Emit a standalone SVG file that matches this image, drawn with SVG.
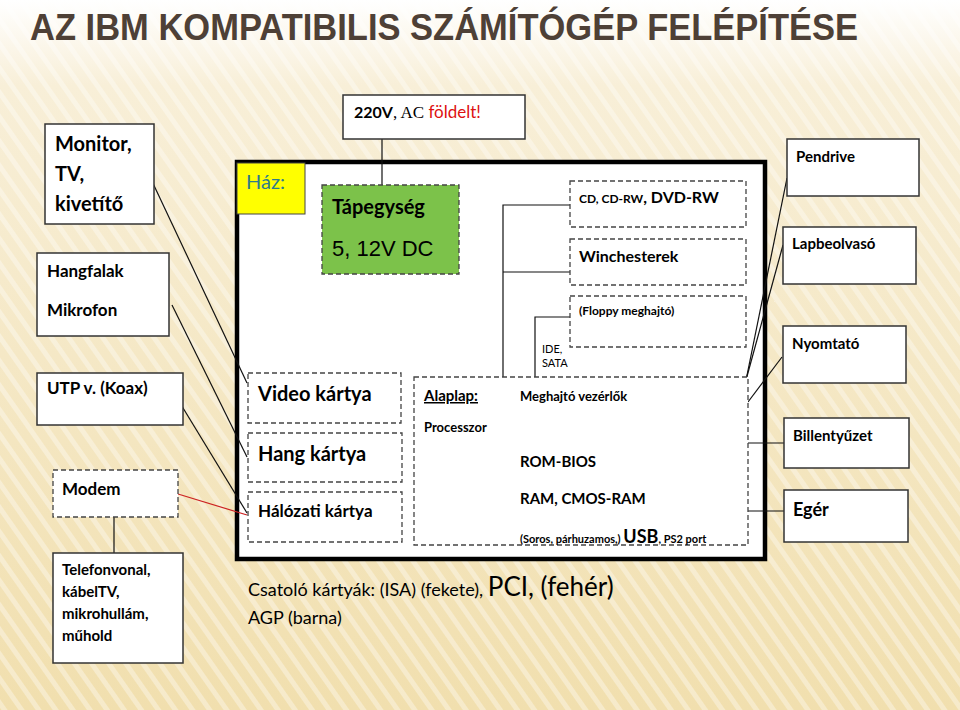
<svg xmlns="http://www.w3.org/2000/svg" width="960" height="710" viewBox="0 0 960 710">
<defs>
<linearGradient id="bg" x1="0" y1="0" x2="0" y2="1">
<stop offset="0" stop-color="#ffffff"/>
<stop offset="0.12" stop-color="#f8efd8"/>
<stop offset="1" stop-color="#f1dfae"/>
</linearGradient>
<pattern id="stripes" width="14" height="14" patternUnits="userSpaceOnUse" patternTransform="rotate(-35)">
<rect width="14" height="14" fill="none"/>
<rect width="5" height="14" fill="#ffffff" opacity="0.35"/>
</pattern>
</defs>
<style>
.t{font-family:Lato,"Open Sans","Liberation Sans",sans-serif;fill:#000;font-weight:bold}
.r{font-weight:normal}
.box{fill:#fff;stroke:#333;stroke-width:1.5}
.dash{fill:#fff;stroke:#444;stroke-width:1.3;stroke-dasharray:5 3}
.ln{stroke:#111;stroke-width:1.2;fill:none}
</style>
<rect width="960" height="710" fill="url(#bg)"/>
<rect width="960" height="710" fill="url(#stripes)"/>
<text x="30" y="40" font-family="'Liberation Sans',sans-serif" font-weight="bold" font-size="36" fill="#4e4036" textLength="828" lengthAdjust="spacingAndGlyphs">AZ IBM KOMPATIBILIS SZÁMÍTÓGÉP FELÉPÍTÉSE</text>

<g id="haz"><rect x="237" y="162" width="528" height="397" fill="#fff" stroke="#000" stroke-width="4.5"/>
<rect x="237" y="163" width="68" height="51" fill="#ffff00" stroke="#444" stroke-width="1"/>
<text x="246" y="189" font-family="Lato,sans-serif" font-size="20" fill="#2e7b8c">Ház:</text></g>

<g id="conn">
<line class="ln" x1="382" y1="139" x2="382" y2="185"/>
<line class="ln" x1="150" y1="177" x2="247" y2="383"/>
<line class="ln" x1="172" y1="305" x2="247" y2="457"/>
<line class="ln" x1="180" y1="403" x2="247" y2="513"/>
<line x1="178" y1="494" x2="247" y2="515" stroke="#cc2222" stroke-width="1.2"/>
<line class="ln" x1="114" y1="517" x2="114" y2="553"/>
<polyline class="ln" points="570,205 503,205 503,383"/>
<line class="ln" x1="503" y1="272" x2="570" y2="272"/>
<polyline class="ln" points="570,317 535,317 535,383"/>
<line class="ln" x1="787" y1="178" x2="743" y2="395"/>
<line class="ln" x1="783" y1="245" x2="746" y2="380"/>
<line class="ln" x1="782" y1="357" x2="748" y2="402"/>
<line class="ln" x1="748" y1="443" x2="784" y2="443"/>
<line class="ln" x1="748" y1="511" x2="784" y2="511"/>
</g>

<g id="ac"><rect class="box" x="343" y="95" width="182" height="44"/>
<text x="354" y="118" font-size="17"><tspan class="t" font-size="16">220V</tspan><tspan font-family="'Liberation Serif',serif">, AC </tspan><tspan font-family="Lato,sans-serif" fill="#dd1111">földelt!</tspan></text></g>

<g id="tap"><rect x="322" y="185" width="137" height="89" fill="#7cc24a" stroke="#444" stroke-width="1.3" stroke-dasharray="5 3"/>
<text class="t" x="332" y="214" font-size="20">Tápegység</text>
<text x="332" y="256" font-family="'Liberation Sans',sans-serif" font-size="22">5, 12V DC</text></g>

<g id="monitor"><rect class="box" x="45" y="124" width="109" height="100"/>
<text class="t" x="55" y="151" font-size="20">Monitor,</text>
<text class="t" x="55" y="181" font-size="20">TV,</text>
<text class="t" x="55" y="211" font-size="20">kivetítő</text></g>
<g id="hangfal"><rect class="box" x="37" y="253" width="132" height="83"/>
<text class="t" x="47" y="277" font-size="17">Hangfalak</text>
<text class="t" x="47" y="316" font-size="17">Mikrofon</text></g>
<g id="utp"><rect class="box" x="37" y="373" width="146" height="52"/>
<text class="t" x="47" y="394" font-size="17">UTP v. (Koax)</text></g>
<g id="modem"><rect class="dash" x="53" y="470" width="125" height="47"/>
<text class="t" x="62" y="495" font-size="17">Modem</text></g>
<g id="telefon"><rect class="box" x="53" y="553" width="130" height="110"/>
<text class="t" x="62" y="575" font-size="15">Telefonvonal,</text>
<text class="t" x="62" y="597" font-size="15">kábelTV,</text>
<text class="t" x="62" y="619" font-size="15">mikrohullám,</text>
<text class="t" x="62" y="641" font-size="15">műhold</text></g>

<g id="pendrive"><rect class="box" x="787" y="139" width="132" height="57"/><text class="t" x="796" y="162" font-size="15">Pendrive</text></g>
<g id="lap"><rect class="box" x="783" y="227" width="133" height="57"/><text class="t" x="792" y="249" font-size="15">Lapbeolvasó</text></g>
<g id="nyomtato"><rect class="box" x="783" y="326" width="123" height="57"/><text class="t" x="792" y="349" font-size="15">Nyomtató</text></g>
<g id="bill"><rect class="box" x="784" y="418" width="125" height="50"/><text class="t" x="793" y="441" font-size="15">Billentyűzet</text></g>
<g id="eger"><rect class="box" x="784" y="490" width="124" height="52"/><text class="t" x="793" y="516" font-size="18">Egér</text></g>

<g id="cd"><rect class="dash" x="570" y="181" width="176" height="46"/>
<text class="t" x="579" y="203" font-size="12">CD, CD-RW<tspan font-size="16">, DVD-RW</tspan></text></g>
<g id="winch"><rect class="dash" x="570" y="239" width="176" height="46"/>
<text class="t" x="579" y="262" font-size="16">Winchesterek</text></g>
<g id="floppy"><rect class="dash" x="570" y="296" width="176" height="51"/>
<text class="t" x="579" y="315" font-size="12">(Floppy meghajtó)</text></g>
<text class="t r" x="542" y="353" font-size="11">IDE,</text>
<text class="t r" x="542" y="367" font-size="11">SATA</text>

<g id="video"><rect class="dash" x="248" y="373" width="153" height="50"/><text class="t" x="258" y="401" font-size="20">Video kártya</text></g>
<g id="hang"><rect class="dash" x="248" y="433" width="154" height="49"/><text class="t" x="258" y="461" font-size="20">Hang kártya</text></g>
<g id="halozati"><rect class="dash" x="248" y="492" width="154" height="50"/><text class="t" x="258" y="517" font-size="17">Hálózati kártya</text></g>

<g id="alaplap"><rect class="dash" x="414" y="377" width="334" height="168" fill="none"/>
<text class="t" x="424" y="401" font-size="15" text-decoration="underline">Alaplap:</text>
<text class="t" x="520" y="401" font-size="13">Meghajtó vezérlők</text>
<text class="t" x="424" y="432" font-size="13">Processzor</text>
<text class="t" x="520" y="467" font-size="15">ROM-BIOS</text>
<text class="t" x="520" y="504" font-size="15">RAM, CMOS-RAM</text>
<text class="t" x="520" y="543" font-size="11">(Soros, párhuzamos,) <tspan font-size="18">USB</tspan>, PS2 port</text></g>

<text class="t r" x="248" y="596" font-size="18">Csatoló kártyák: (ISA) (fekete), <tspan font-size="26">PCI, (fehér)</tspan></text>
<text class="t r" x="248" y="624" font-size="18">AGP (barna)</text>
</svg>
